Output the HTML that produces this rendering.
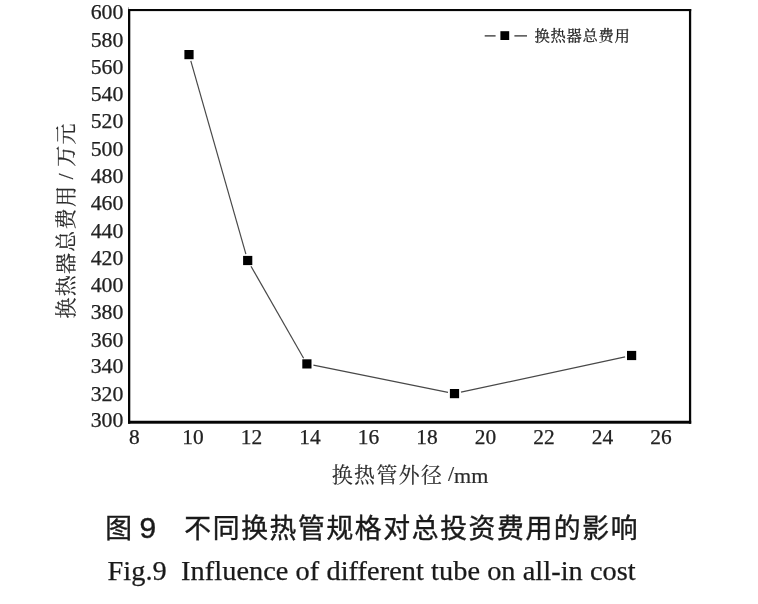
<!DOCTYPE html>
<html lang="zh">
<head>
<meta charset="utf-8">
<title>图 9 不同换热管规格对总投资费用的影响</title>
<style>
html,body{margin:0;padding:0;background:#fff;}
body{width:758px;height:604px;overflow:hidden;position:relative;}
svg{position:absolute;left:0;top:0;display:block;}
text{font-family:"Liberation Serif", "Noto Serif CJK SC", serif;fill:#222;}
.tick{font-size:21.8px;fill:#151515;stroke:#151515;stroke-width:0.25px;}
figure{margin:0;padding:0;position:absolute;left:0;top:0;width:758px;height:604px;}
figcaption p{margin:0;padding:0;position:absolute;left:0;white-space:pre;color:#1a1a1a;line-height:1;}
.cap-cn{font-family:"Liberation Sans", "Noto Sans CJK SC", sans-serif;font-size:26.8px;font-weight:400;letter-spacing:1.63px;top:529px;height:0;-webkit-text-stroke:0.4px #1a1a1a;}
.cap-cn span{position:absolute;top:0;line-height:0;}
.cap-cn .c1{left:105.2px;}
.cap-cn .c2{left:139.5px;top:-1px;font-size:30px;}
.cap-cn .c3{left:184.3px;}
.cap-en{font-family:"Liberation Serif", "Noto Serif CJK SC", serif;font-size:28.35px;letter-spacing:0.045px;left:107.5px;top:571.3px;height:0;line-height:0;-webkit-text-stroke:0.25px #1a1a1a;}
.axl{font-size:22px;fill:#2b2b2b;stroke:#2b2b2b;stroke-width:0.2px;}
.leg{font-size:15.3px;letter-spacing:0.7px;fill:#1a1a1a;stroke:#1a1a1a;stroke-width:0.25px;}
</style>
</head>
<body>
<figure>
<svg role="img" aria-label="换热管外径与换热器总费用关系曲线" width="758" height="604" viewBox="0 0 758 604">
<rect x="0" y="0" width="758" height="604" fill="#ffffff"/>

<g fill="#050505">
<rect x="128.0" y="9.0" width="563.2" height="2.1"/>
<rect x="128.0" y="9.0" width="2.3" height="414.7"/>
<rect x="688.95" y="9.0" width="2.25" height="414.7"/>
<rect x="128.0" y="420.75" width="563.2" height="2.95"/>
</g>
<rect x="128.1" y="7.3" width="0.9" height="1.8" fill="#9a9a9a"/>
<g stroke="#484848" stroke-width="1.2" fill="none">
<line x1="190.8" y1="60.9" x2="245.9" y2="254.2"/>
<line x1="251.0" y1="266.2" x2="303.6" y2="358.2"/>
<line x1="313.4" y1="365.2" x2="448.0" y2="392.3"/>
<line x1="461.0" y1="392.2" x2="625.1" y2="356.9"/>
</g>
<g fill="#000">
<rect x="184.4" y="50.0" width="9.2" height="9.2"/>
<rect x="243.1" y="255.9" width="9.2" height="9.2"/>
<rect x="302.3" y="359.3" width="9.2" height="9.2"/>
<rect x="449.9" y="389.0" width="9.2" height="9.2"/>
<rect x="627.0" y="350.9" width="9.2" height="9.2"/>
</g>
<g class="tick" text-anchor="end">
<text x="123.4" y="19.4">600</text>
<text x="123.4" y="46.6">580</text>
<text x="123.4" y="73.7">560</text>
<text x="123.4" y="100.9">540</text>
<text x="123.4" y="128.2">520</text>
<text x="123.4" y="155.8">500</text>
<text x="123.4" y="183.4">480</text>
<text x="123.4" y="210.4">460</text>
<text x="123.4" y="237.7">440</text>
<text x="123.4" y="264.7">420</text>
<text x="123.4" y="292.0">400</text>
<text x="123.4" y="319.3">380</text>
<text x="123.4" y="346.5">360</text>
<text x="123.4" y="373.4">340</text>
<text x="123.4" y="400.5">320</text>
<text x="123.4" y="427.3">300</text>
</g>
<g class="tick" style="font-size:21.4px" text-anchor="middle">
<text x="134.4" y="443.50">8</text>
<text x="192.9" y="443.56">10</text>
<text x="251.4" y="443.61">12</text>
<text x="309.9" y="443.67">14</text>
<text x="368.4" y="443.72">16</text>
<text x="426.9" y="443.78">18</text>
<text x="485.4" y="443.83">20</text>
<text x="543.9" y="443.89">22</text>
<text x="602.4" y="443.94">24</text>
<text x="660.9" y="444.00">26</text>
</g>
<g stroke="#222" stroke-width="1.2"><line x1="484.7" y1="35.9" x2="495.6" y2="35.9"/><line x1="514.4" y1="35.9" x2="527" y2="35.9"/></g>
<rect x="500.4" y="31.2" width="8.8" height="8.8" fill="#000"/>
<text class="leg" x="534.6" y="40.6">换热器总费用</text>
<text class="axl" y="482.2"><tspan x="331.8" style="font-size:20.9px;letter-spacing:1.4px">换热管外径</tspan> <tspan x="447.9" y="481.4">/</tspan><tspan y="482.5">mm</tspan></text>
<text class="axl" style="font-size:21px;letter-spacing:1.3px;word-spacing:-1.1px" transform="translate(72.9,318.6) rotate(-90)">换热器总费用 / 万元</text>
</svg>
<figcaption>
<p class="cap-cn"><span class="c1">图</span> <span class="c2">9</span>　<span class="c3">不同换热管规格对总投资费用的影响</span></p>
<p class="cap-en">Fig.9  Influence of different tube on all-in cost</p>
</figcaption>
</figure>
</body>
</html>
